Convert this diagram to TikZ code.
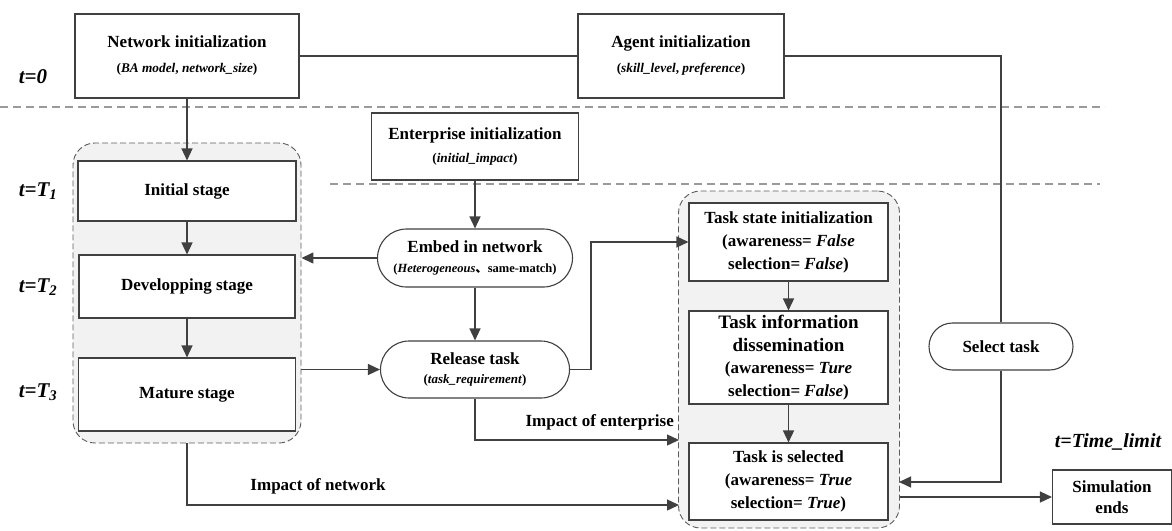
\documentclass[tikz,border=0pt]{standalone}
\usepackage{fontspec}
\setmainfont{Liberation Serif}
\newfontfamily\cjk{Noto Sans CJK SC}
\usetikzlibrary{arrows.meta}
\definecolor{ln}{HTML}{404040}
\definecolor{dl}{HTML}{9A9A9A}
\definecolor{gf}{HTML}{F2F2F2}
\newcommand{\subfs}{\fontsize{13.3}{15}\selectfont}
\begin{document}
\begin{tikzpicture}[x=1pt,y=-1pt,
  box/.style={draw=ln,line width=1.1pt,fill=white,inner sep=0pt,align=center,font=\fontsize{17}{20}\selectfont\bfseries},
  pill/.style={box,rounded corners=#1},
  grp/.style={draw=ln!85,line width=0.9pt,dash pattern=on 6pt off 3pt,fill=gf,rounded corners=22pt,inner sep=0pt},
  conn/.style={draw=ln,line width=1.4pt},
  arr/.style={conn,-{Triangle[length=12pt,width=11pt]}},
  tlab/.style={font=\fontsize{21}{24}\selectfont\bfseries\itshape,inner sep=0pt},
  lab/.style={font=\fontsize{17}{20}\selectfont\bfseries,inner sep=0pt},
  dsh/.style={draw=dl,line width=1.2pt,dash pattern=on 8pt off 5pt}]
\useasboundingbox (0,0) rectangle (1172,530);
% separators
\draw[dsh] (0,107) -- (1105,107);
\draw[dsh] (330,184) -- (1100,184);
% groups
\node[grp,minimum width=228pt,minimum height=300pt] (grpL) at (187,293) {};
\node[grp,minimum width=221pt,minimum height=337pt] (grpR) at (789,359.5) {};
% time labels
\node[tlab] (t0) at (33,77) {t=0};
\node[tlab] (t1) at (38,191) {t=T\textsubscript{1}};
\node[tlab] (t2) at (38,287) {t=T\textsubscript{2}};
\node[tlab] (t3) at (38,392) {t=T\textsubscript{3}};
\node[tlab,font=\fontsize{20}{24}\selectfont\bfseries\itshape] (tl) at (1108,442) {t=Time\_limit};
% top boxes
\node[box,minimum width=224pt,minimum height=84pt] (netinit) at (187,56)
  {Network initialization\\[5pt]{\subfs(\textit{BA model}, \textit{network\_size})}};
\node[box,minimum width=206pt,minimum height=84pt] (agentinit) at (681,56)
  {Agent initialization\\[5pt]{\subfs(\textit{skill\_level}, \textit{preference})}};
\node[box,minimum width=207pt,minimum height=67pt] (entinit) at (475,146.5)
  {Enterprise initialization\\[3pt]{\subfs(\textit{initial\_impact})}};
% stages
\node[box,minimum width=218pt,minimum height=60pt] (initial) at (187,191) {Initial stage};
\node[box,minimum width=216pt,minimum height=63pt] (develop) at (187,286.5) {Developping stage};
\node[box,minimum width=217pt,minimum height=73pt] (mature) at (187,394.5) {Mature stage};
% middle pills
\node[pill=29pt,minimum width=195pt,minimum height=58pt] (embed) at (475,258)
  {Embed in network\\[0pt]{\fontsize{12.5}{14}\selectfont(\textit{Heterogeneous}{\cjk 、}same-match)}};
\node[pill=28.5pt,minimum width=189pt,minimum height=57pt] (release) at (475,369.5)
  {Release task\\[-1pt]{\fontsize{13}{14}\selectfont(\textit{task\_requirement})}};
% task boxes
\node[box,minimum width=199pt,minimum height=78pt,font=\fontsize{17}{23}\selectfont\bfseries] (tsinit) at (788.5,242)
  {Task state initialization\\(awareness= \textit{False}\\selection= \textit{False})};
\node[box,minimum width=199pt,minimum height=93pt,font=\fontsize{17}{22.5}\selectfont\bfseries] (tinfo) at (788.5,357.5)
  {{\fontsize{19}{22.5}\selectfont Task information}\\{\fontsize{19}{22.5}\selectfont dissemination}\\(awareness= \textit{Ture}\\selection= \textit{False})};
\node[box,minimum width=199pt,minimum height=77pt,font=\fontsize{17}{23}\selectfont\bfseries] (tsel) at (788.5,481.5)
  {Task is selected\\(awareness= \textit{True}\\selection= \textit{True})};
\node[pill=23.5pt,minimum width=144pt,minimum height=47pt] (select) at (1001,346.5) {Select task};
\node[box,minimum width=119pt,minimum height=54pt,font=\fontsize{17}{20.5}\selectfont\bfseries] (simend) at (1112,497) {Simulation\\ends};
% coordinates
\coordinate (entIn) at (679,440);
\coordinate (netIn) at (679,505);
\coordinate (selIn) at (899,482);
% connectors
\draw[conn] (netinit.east) -- (agentinit.west);
\draw[conn] (agentinit.east) -| (select.north);
\draw[arr] (netinit.south) -- (initial.north);
\draw[arr] (initial.south) -- (develop.north);
\draw[arr] (develop.south) -- (mature.north);
\draw[arr] (entinit.south) -- (embed.north);
\draw[arr] (embed.south) -- (release.north);
\draw[arr] (embed.west) -- (embed.west -| grpL.east);
\draw[arr] (grpL.east |- release.west) -- (release.west);
\draw[arr] (release.east) -- ++(21,0) |- (tsinit.west);
\draw[arr] (tsinit.south) -- (tinfo.north);
\draw[arr] (tinfo.south) -- (tsel.north);
\draw[arr] (release.south) |- (entIn);
\draw[arr] (grpL.south) |- (netIn);
\draw[arr] (select.south) |- (selIn);
\draw[arr] (grpR.east |- simend.west) -- (simend.west);
% labels
\node[lab,anchor=east] (impE) at (674,422) {Impact of enterprise};
\node[lab] (impN) at (318,486) {Impact of network};
\end{tikzpicture}
\end{document}
